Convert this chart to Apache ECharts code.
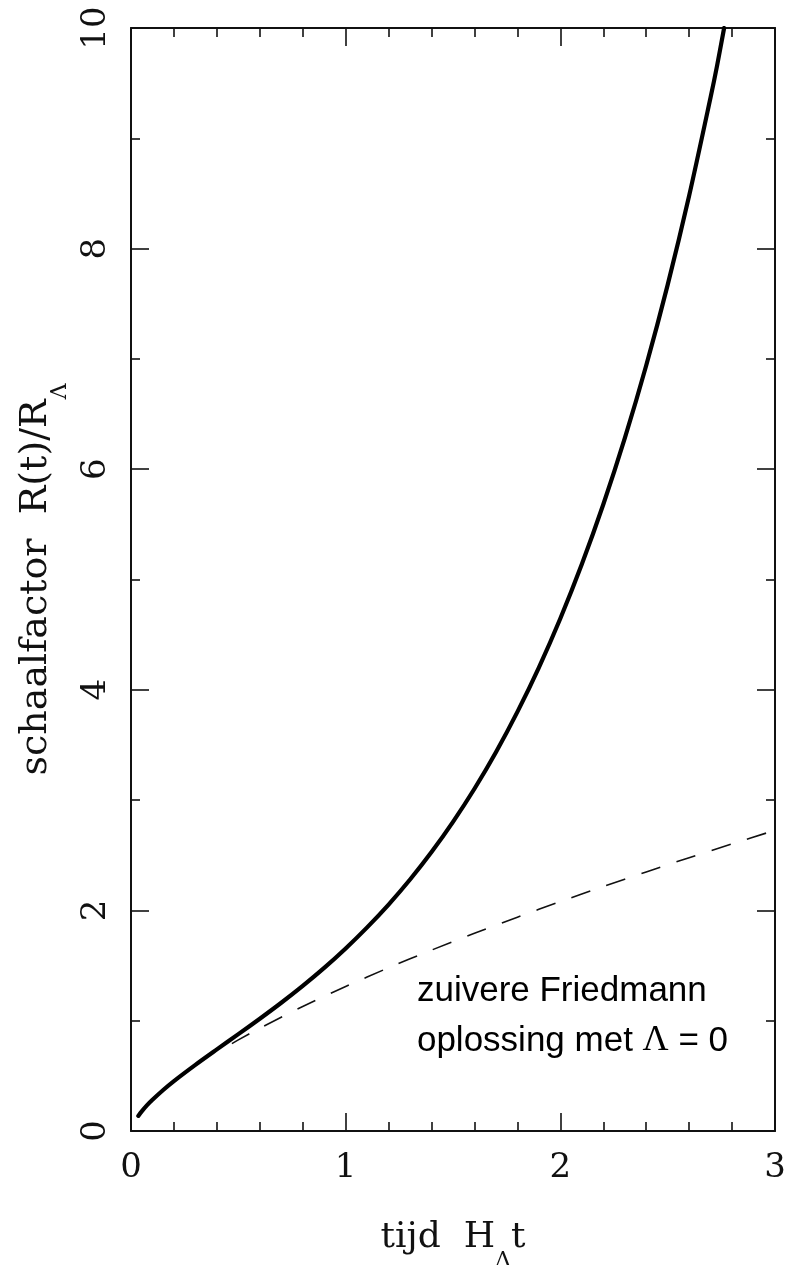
<!DOCTYPE html>
<html>
<head>
<meta charset="utf-8">
<script src="https://cdn.jsdelivr.net/npm/echarts@6/dist/echarts.min.js"></script>
<style>
html,body{margin:0;padding:0;background:#fff;}
#c{width:796px;height:1265px;}
</style>
</head>
<body>
<div id="c"></div>
<script>
// Solid curve (with cosmological constant): [t, R/R_Lambda]
const lambdaT = [0.034,0.05,0.075,0.1,0.15,0.2,0.3,0.4,0.5,0.6,0.7,0.8,0.9,1.0,1.1,1.2,1.3,1.4,1.5,1.6,1.7,1.8,1.9,2.0,2.1,2.2,2.3,2.4,2.5,2.6,2.7,2.73,2.763];
const lambdaR = [0.137,0.178,0.234,0.283,0.372,0.453,0.600,0.740,0.878,1.018,1.163,1.316,1.479,1.655,1.846,2.053,2.280,2.529,2.803,3.103,3.434,3.800,4.202,4.647,5.138,5.680,6.279,6.940,7.671,8.479,9.372,9.657,10.0];
// Dashed curve: pure Friedmann solution with Lambda = 0
const friedT = [0.47,0.5,0.6,0.8,1.0,1.2,1.4,1.6,1.8,2.0,2.2,2.4,2.6,2.8,3.0];
const friedR = [0.792,0.826,0.932,1.129,1.310,1.480,1.640,1.793,1.939,2.080,2.217,2.349,2.478,2.603,2.726];
const xTicks = ['0','1','2','3'];
const yTicks = ['0','2','4','6','8','10'];

const serif = 'DejaVu Serif';
const sans = 'Liberation Sans';

const chart = echarts.init(document.getElementById('c'), null, {renderer:'canvas'});

const tickCommon = {
  axisLine:{show:true, onZero:false, lineStyle:{color:'#111', width:2}},
  axisTick:{show:true, inside:true, length:18, lineStyle:{color:'#111', width:1.6}},
  minorTick:{show:true, length:9, lineStyle:{color:'#111', width:1.6}},
  splitLine:{show:false},
  minorSplitLine:{show:false}
};

const option = {
  animation:false,
  backgroundColor:'#fff',
  grid:{left:131, right:21, top:28, bottom:134, containLabel:false, outerBoundsMode:'none'},
  xAxis:[
    Object.assign({
      type:'value', min:0, max:3, interval:1, position:'bottom',
      name:'{t|tijd  H}{s|Λ}{t|t}', nameLocation:'middle', nameGap:89,
      nameTextStyle:{rich:{
        t:{fontFamily:serif, fontSize:36, color:'#111', lineHeight:42, verticalAlign:'top'},
        s:{fontFamily:serif, fontSize:22, color:'#111', lineHeight:22, padding:[30,0,0,0], verticalAlign:'top'}
      }},
      axisLabel:{margin:20, fontFamily:serif, fontSize:34, color:'#111',
        formatter:function(v){ return xTicks[Math.round(v)]; }},
    }, tickCommon, {minorTick:Object.assign({}, tickCommon.minorTick, {splitNumber:5})}),
    Object.assign({
      type:'value', min:0, max:3, interval:1, position:'top',
      axisLabel:{show:false}
    }, tickCommon, {minorTick:Object.assign({}, tickCommon.minorTick, {splitNumber:5})})
  ],
  yAxis:[
    Object.assign({
      type:'value', min:0, max:10, interval:2, position:'left',
      name:'{t|schaalfactor  R(t)/R}{s|Λ}', nameLocation:'middle', nameGap:64,
      nameTextStyle:{rich:{
        t:{fontFamily:serif, fontSize:38, color:'#111', lineHeight:44, verticalAlign:'top'},
        s:{fontFamily:serif, fontSize:22, color:'#111', lineHeight:22, padding:[32,0,0,0], verticalAlign:'top'}
      }},
      axisLabel:{rotate:90, margin:18, fontFamily:serif, fontSize:34, color:'#111',
        formatter:function(v){ return yTicks[Math.round(v/2)]; }},
    }, tickCommon, {minorTick:Object.assign({}, tickCommon.minorTick, {splitNumber:2})}),
    Object.assign({
      type:'value', min:0, max:10, interval:2, position:'right',
      axisLabel:{show:false}
    }, tickCommon, {minorTick:Object.assign({}, tickCommon.minorTick, {splitNumber:2})})
  ],
  series:[
    {
      type:'line', xAxisIndex:0, yAxisIndex:0, showSymbol:false, symbol:'none', smooth:0.3,
      clip:true,
      data: lambdaT.map((t,i)=>[t, lambdaR[i]]),
      lineStyle:{color:'#000', width:4.2, cap:'round', join:'round'}
    },
    {
      type:'line', xAxisIndex:0, yAxisIndex:0, showSymbol:false, symbol:'none', smooth:0.3,
      data: friedT.map((t,i)=>[t, friedR[i]]),
      lineStyle:{color:'#111', width:1.6, type:[20,17]}
    }
  ]
};
chart.setOption(option);

// annotation placed via data coordinates
const p1 = chart.convertToPixel({xAxisIndex:0, yAxisIndex:0}, [1.332, 1.107]);
const p2 = chart.convertToPixel({xAxisIndex:0, yAxisIndex:0}, [1.332, 0.654]);
const annRich = {
  a:{fontFamily:sans, fontSize:35, color:'#111'},
  g:{fontFamily:'Liberation Serif', fontSize:36, color:'#111'}
};
chart.setOption({
  graphic:[
    {type:'text', x:p1[0], y:p1[1], style:{text:'{a|zuivere Friedmann}', rich:annRich, verticalAlign:'bottom'}},
    {type:'text', x:p2[0], y:p2[1], style:{text:'{a|oplossing met }{g|Λ}{a| = 0}', rich:annRich, verticalAlign:'bottom'}}
  ]
});
</script>
</body>
</html>
